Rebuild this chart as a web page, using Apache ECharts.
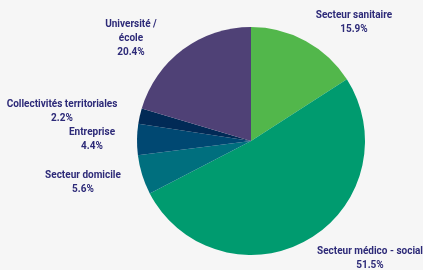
<!DOCTYPE html>
<html>
<head>
<meta charset="utf-8">
<script src="https://cdn.jsdelivr.net/npm/echarts@6/dist/echarts.min.js"></script>
<style>
    html, body { margin: 0; padding: 0; background: #f6f6f6; }
    #chart { width: 423px; height: 270px; }
</style>
</head>
<body>
<div id="chart"></div>
<script>
const categories = ['Secteur sanitaire', 'Secteur médico - social', 'Secteur domicile', 'Entreprise', 'Collectivités territoriales', 'Université /\nécole'];
const shares = [15.9, 51.5, 5.6, 4.4, 2.2, 20.4];
const colors = ['#52b74b', '#009b6f', '#006f7e', '#004872', '#012a56', '#4f4176'];
// label anchor (centre of text block) per slice
const labelPos = [[354, 22], [370, 258], [83, 182], [92, 139], [62, 111], [131, 38]];

const myChart = echarts.init(document.getElementById('chart'), null, { renderer: 'canvas' });

const option = {
    backgroundColor: '#f6f6f6',
    animation: false,
    series: [
        {
            type: 'pie',
            center: [251, 141],
            radius: [0, 114],
            startAngle: 90,
            clockwise: true,
            data: categories.map((name, i) => ({
                name: name,
                value: shares[i],
                itemStyle: { color: colors[i] }
            })),
            label: {
                show: true,
                position: 'outside',
                formatter: p => p.name + '\n' + p.value.toFixed(1) + '%',
                color: '#2d2a78',
                fontFamily: 'Roboto',
                fontWeight: 'bold',
                fontSize: 10,
                lineHeight: 14,
                align: 'center',
                overflow: 'none',
                width: 200
            },
            labelLine: { show: false },
            labelLayout: function (params) {
                const pos = labelPos[params.dataIndex];
                return {
                    x: pos[0],
                    y: pos[1],
                    align: 'center',
                    verticalAlign: 'middle'
                };
            }
        }
    ]
};

myChart.setOption(option, true);
</script>
</body>
</html>
